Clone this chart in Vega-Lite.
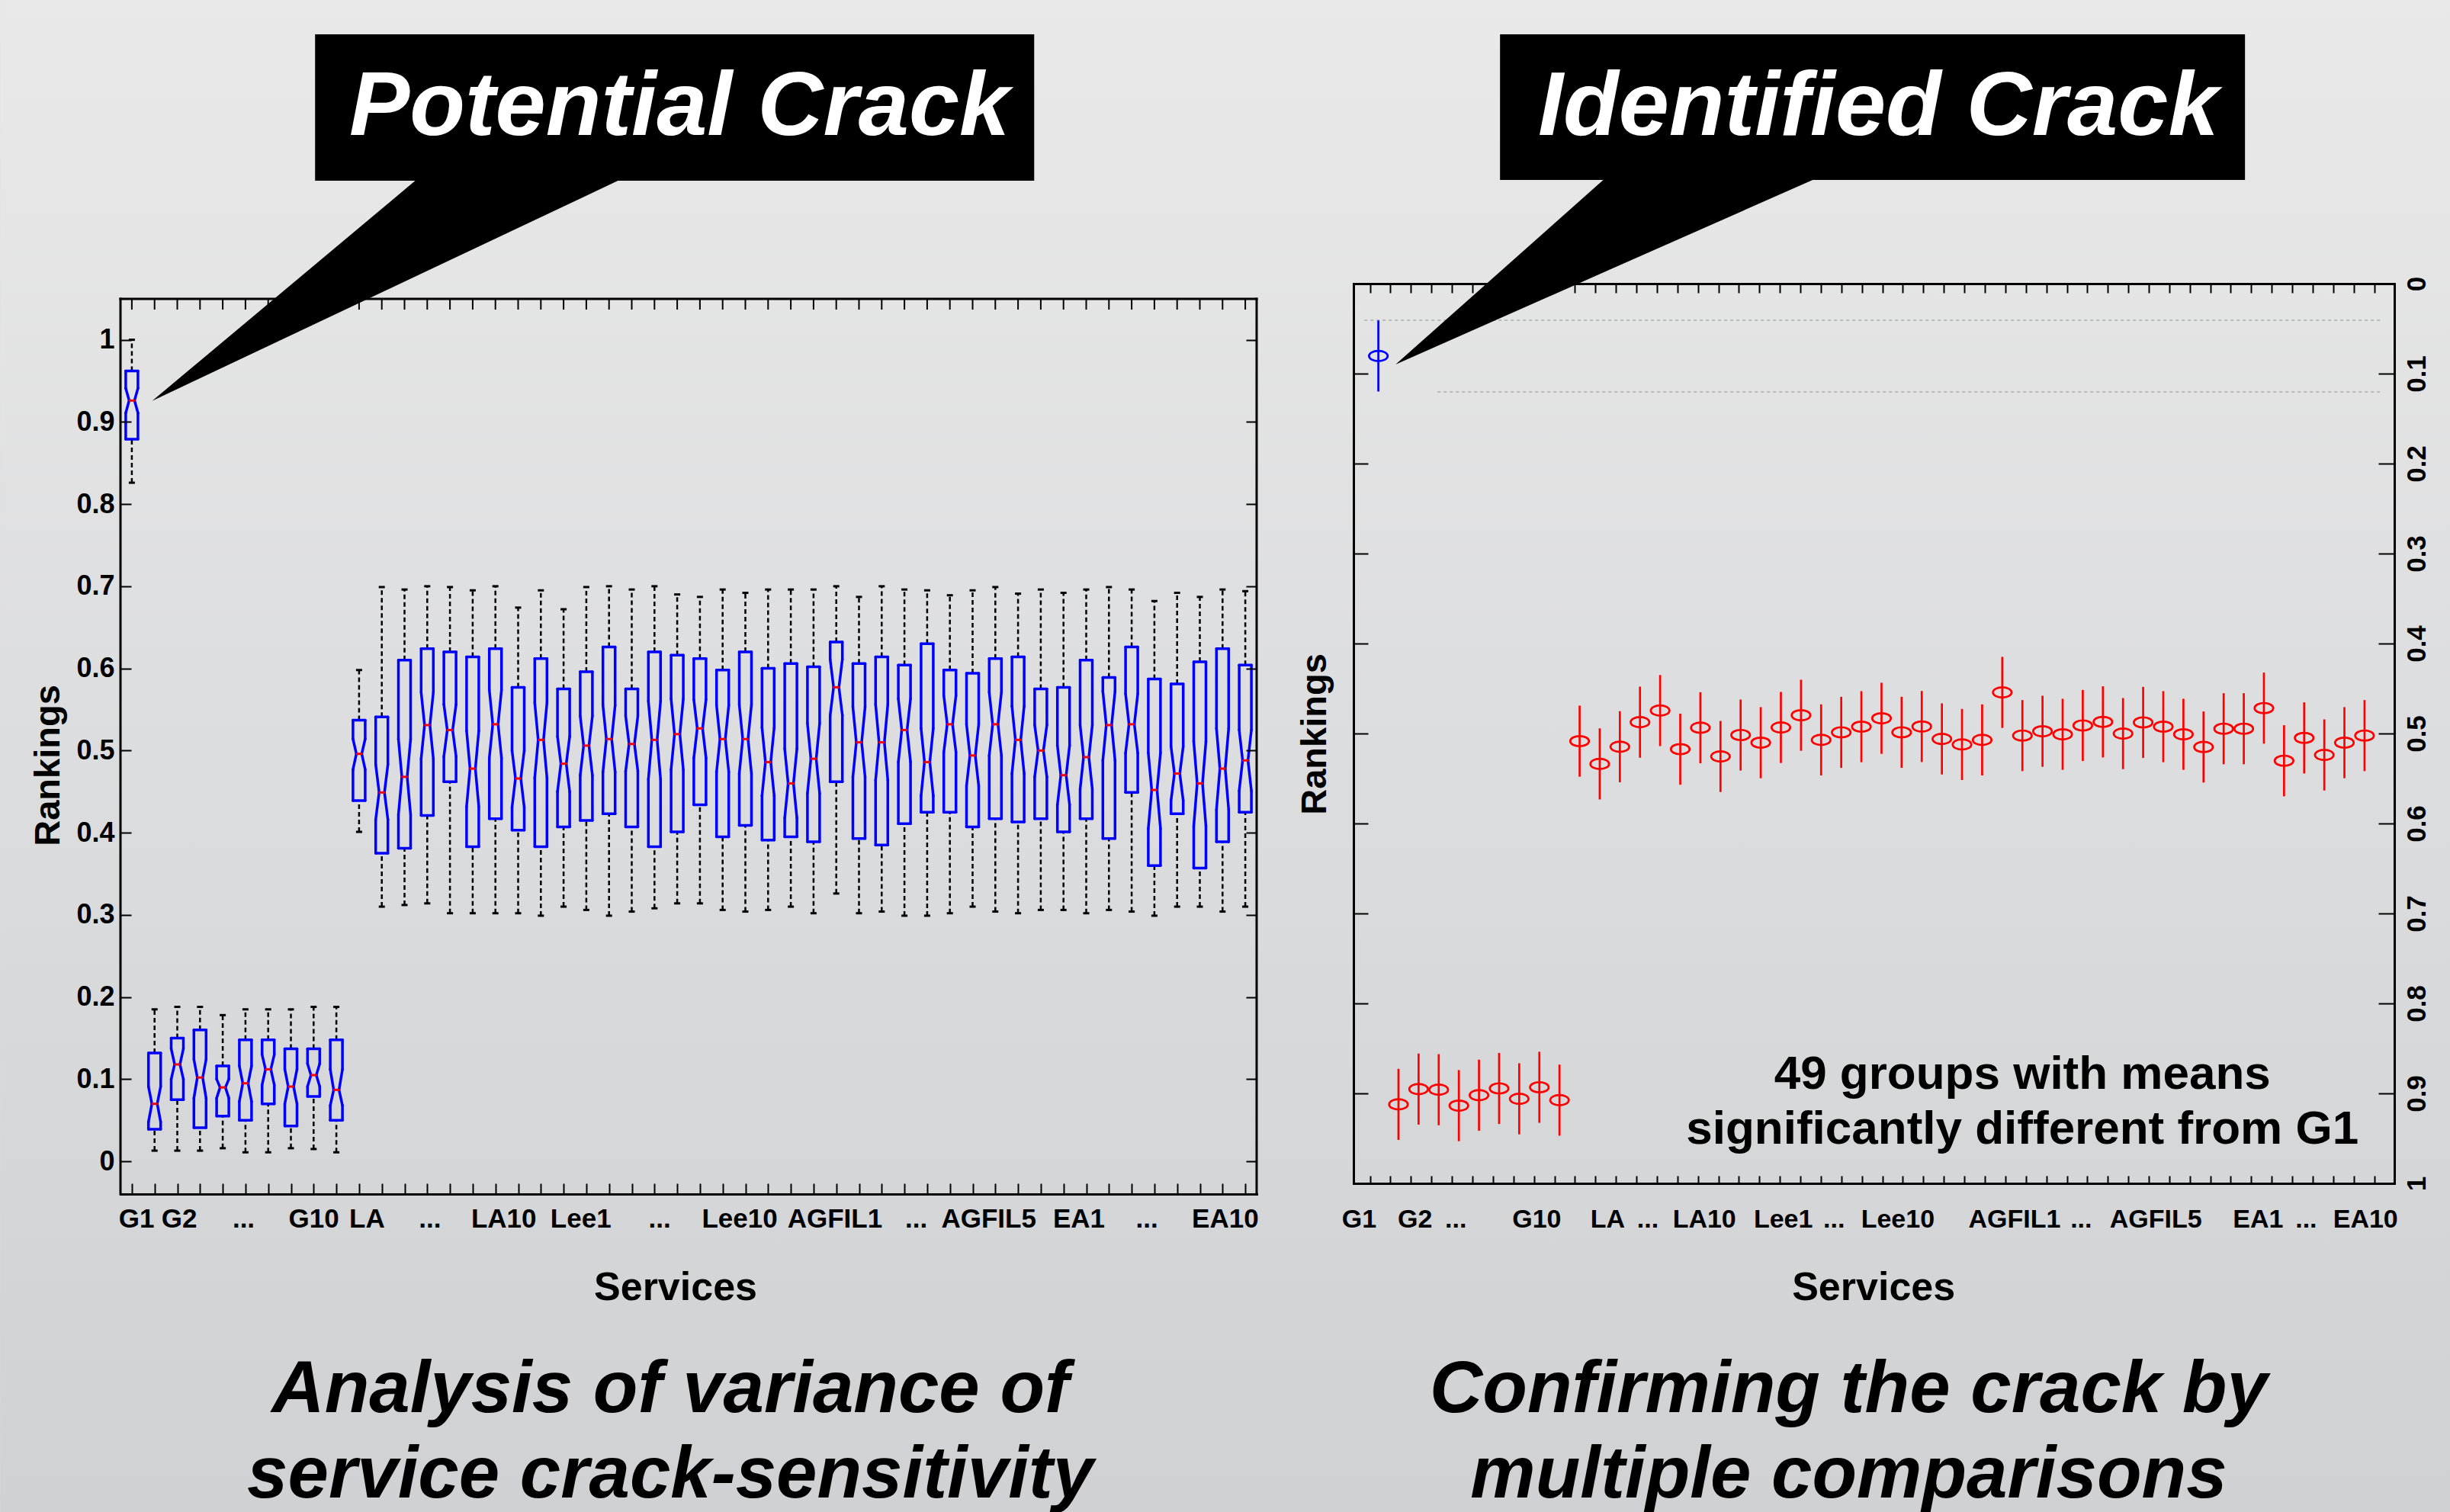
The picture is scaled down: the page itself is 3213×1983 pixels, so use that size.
{
"$schema":"https://vega.github.io/schema/vega-lite/v6.json",
"padding":0,
"autosize":{"type":"pad"},
"background":"#dddddd",
"config":{"view":{"stroke":null},"axis":{"domainColor":"#000","domainWidth":3,"domainCap":"square","tickColor":"#000","tickWidth":2,"grid":false,"labelFont":"Liberation Sans","labelFontWeight":"bold","labelColor":"#000","labelOverlap":false,"labelFlush":false}},
"datasets":{
"boxes":[
{"i":1,"wb":0.826,"q1":0.879,"nlo":0.911,"med":0.926,"nhi":0.941,"q3":0.962,"wt":1.0},
{"i":2,"wb":0.013,"q1":0.039,"nlo":0.048,"med":0.070,"nhi":0.091,"q3":0.132,"wt":0.185},
{"i":3,"wb":0.013,"q1":0.075,"nlo":0.100,"med":0.118,"nhi":0.137,"q3":0.150,"wt":0.188},
{"i":4,"wb":0.013,"q1":0.041,"nlo":0.077,"med":0.102,"nhi":0.124,"q3":0.160,"wt":0.188},
{"i":5,"wb":0.016,"q1":0.055,"nlo":0.077,"med":0.090,"nhi":0.100,"q3":0.116,"wt":0.178},
{"i":6,"wb":0.011,"q1":0.050,"nlo":0.073,"med":0.095,"nhi":0.116,"q3":0.148,"wt":0.185},
{"i":7,"wb":0.011,"q1":0.070,"nlo":0.093,"med":0.112,"nhi":0.130,"q3":0.148,"wt":0.185},
{"i":8,"wb":0.016,"q1":0.043,"nlo":0.070,"med":0.091,"nhi":0.112,"q3":0.137,"wt":0.185},
{"i":9,"wb":0.015,"q1":0.079,"nlo":0.091,"med":0.105,"nhi":0.119,"q3":0.137,"wt":0.188},
{"i":10,"wb":0.011,"q1":0.050,"nlo":0.068,"med":0.087,"nhi":0.112,"q3":0.148,"wt":0.188},
{"i":11,"wb":0.401,"q1":0.439,"nlo":0.477,"med":0.496,"nhi":0.514,"q3":0.537,"wt":0.598},
{"i":12,"wb":0.310,"q1":0.375,"nlo":0.416,"med":0.449,"nhi":0.483,"q3":0.541,"wt":0.699},
{"i":13,"wb":0.312,"q1":0.381,"nlo":0.422,"med":0.468,"nhi":0.514,"q3":0.610,"wt":0.696},
{"i":14,"wb":0.314,"q1":0.421,"nlo":0.490,"med":0.531,"nhi":0.571,"q3":0.624,"wt":0.700},
{"i":15,"wb":0.302,"q1":0.462,"nlo":0.493,"med":0.525,"nhi":0.556,"q3":0.620,"wt":0.699},
{"i":16,"wb":0.302,"q1":0.383,"nlo":0.432,"med":0.478,"nhi":0.524,"q3":0.614,"wt":0.695},
{"i":17,"wb":0.302,"q1":0.417,"nlo":0.491,"med":0.532,"nhi":0.574,"q3":0.624,"wt":0.700},
{"i":18,"wb":0.302,"q1":0.403,"nlo":0.431,"med":0.466,"nhi":0.500,"q3":0.577,"wt":0.674},
{"i":19,"wb":0.299,"q1":0.383,"nlo":0.467,"med":0.513,"nhi":0.558,"q3":0.612,"wt":0.695},
{"i":20,"wb":0.310,"q1":0.407,"nlo":0.450,"med":0.484,"nhi":0.517,"q3":0.575,"wt":0.672},
{"i":21,"wb":0.306,"q1":0.415,"nlo":0.470,"med":0.506,"nhi":0.542,"q3":0.596,"wt":0.699},
{"i":22,"wb":0.299,"q1":0.423,"nlo":0.474,"med":0.514,"nhi":0.555,"q3":0.626,"wt":0.700},
{"i":23,"wb":0.304,"q1":0.407,"nlo":0.475,"med":0.508,"nhi":0.542,"q3":0.575,"wt":0.696},
{"i":24,"wb":0.308,"q1":0.383,"nlo":0.465,"med":0.513,"nhi":0.560,"q3":0.620,"wt":0.700},
{"i":25,"wb":0.314,"q1":0.401,"nlo":0.477,"med":0.520,"nhi":0.563,"q3":0.616,"wt":0.690},
{"i":26,"wb":0.314,"q1":0.434,"nlo":0.491,"med":0.527,"nhi":0.562,"q3":0.612,"wt":0.687},
{"i":27,"wb":0.306,"q1":0.395,"nlo":0.474,"med":0.514,"nhi":0.555,"q3":0.598,"wt":0.696},
{"i":28,"wb":0.304,"q1":0.409,"nlo":0.472,"med":0.514,"nhi":0.556,"q3":0.620,"wt":0.692},
{"i":29,"wb":0.306,"q1":0.391,"nlo":0.445,"med":0.486,"nhi":0.528,"q3":0.600,"wt":0.696},
{"i":30,"wb":0.310,"q1":0.395,"nlo":0.418,"med":0.460,"nhi":0.502,"q3":0.606,"wt":0.696},
{"i":31,"wb":0.302,"q1":0.389,"nlo":0.448,"med":0.490,"nhi":0.533,"q3":0.602,"wt":0.696},
{"i":32,"wb":0.326,"q1":0.462,"nlo":0.543,"med":0.577,"nhi":0.611,"q3":0.632,"wt":0.700},
{"i":33,"wb":0.302,"q1":0.393,"nlo":0.468,"med":0.510,"nhi":0.553,"q3":0.606,"wt":0.687},
{"i":34,"wb":0.304,"q1":0.385,"nlo":0.464,"med":0.510,"nhi":0.556,"q3":0.614,"wt":0.700},
{"i":35,"wb":0.299,"q1":0.411,"nlo":0.486,"med":0.525,"nhi":0.563,"q3":0.604,"wt":0.696},
{"i":36,"wb":0.299,"q1":0.425,"nlo":0.445,"med":0.486,"nhi":0.527,"q3":0.630,"wt":0.695},
{"i":37,"wb":0.302,"q1":0.425,"nlo":0.498,"med":0.532,"nhi":0.567,"q3":0.598,"wt":0.689},
{"i":38,"wb":0.310,"q1":0.407,"nlo":0.457,"med":0.494,"nhi":0.532,"q3":0.594,"wt":0.695},
{"i":39,"wb":0.304,"q1":0.417,"nlo":0.494,"med":0.532,"nhi":0.571,"q3":0.612,"wt":0.699},
{"i":40,"wb":0.302,"q1":0.413,"nlo":0.472,"med":0.513,"nhi":0.554,"q3":0.614,"wt":0.691},
{"i":41,"wb":0.306,"q1":0.417,"nlo":0.468,"med":0.500,"nhi":0.531,"q3":0.575,"wt":0.696},
{"i":42,"wb":0.306,"q1":0.401,"nlo":0.434,"med":0.470,"nhi":0.506,"q3":0.577,"wt":0.692},
{"i":43,"wb":0.302,"q1":0.417,"nlo":0.453,"med":0.492,"nhi":0.531,"q3":0.610,"wt":0.696},
{"i":44,"wb":0.306,"q1":0.393,"nlo":0.488,"med":0.531,"nhi":0.572,"q3":0.589,"wt":0.699},
{"i":45,"wb":0.304,"q1":0.449,"nlo":0.497,"med":0.532,"nhi":0.569,"q3":0.626,"wt":0.696},
{"i":46,"wb":0.299,"q1":0.360,"nlo":0.405,"med":0.452,"nhi":0.497,"q3":0.587,"wt":0.682},
{"i":47,"wb":0.310,"q1":0.423,"nlo":0.439,"med":0.472,"nhi":0.505,"q3":0.581,"wt":0.692},
{"i":48,"wb":0.310,"q1":0.357,"nlo":0.408,"med":0.460,"nhi":0.511,"q3":0.608,"wt":0.687},
{"i":49,"wb":0.304,"q1":0.389,"nlo":0.428,"med":0.478,"nhi":0.527,"q3":0.624,"wt":0.696},
{"i":50,"wb":0.310,"q1":0.425,"nlo":0.451,"med":0.488,"nhi":0.525,"q3":0.604,"wt":0.694}
],
"means":[
{"i":1,"grp":"G1","m":0.0804,"lo":0.0409,"hi":0.1199},
{"i":2,"grp":"other","m":0.9122,"lo":0.8727,"hi":0.9517},
{"i":3,"grp":"other","m":0.8952,"lo":0.8557,"hi":0.9347},
{"i":4,"grp":"other","m":0.8959,"lo":0.8564,"hi":0.9354},
{"i":5,"grp":"other","m":0.9136,"lo":0.8741,"hi":0.9531},
{"i":6,"grp":"other","m":0.902,"lo":0.8625,"hi":0.9415},
{"i":7,"grp":"other","m":0.8945,"lo":0.855,"hi":0.934},
{"i":8,"grp":"other","m":0.906,"lo":0.8665,"hi":0.9455},
{"i":9,"grp":"other","m":0.8932,"lo":0.8537,"hi":0.9327},
{"i":10,"grp":"other","m":0.9075,"lo":0.868,"hi":0.947},
{"i":11,"grp":"other","m":0.5085,"lo":0.469,"hi":0.548},
{"i":12,"grp":"other","m":0.5338,"lo":0.4943,"hi":0.5733},
{"i":13,"grp":"other","m":0.5147,"lo":0.4752,"hi":0.5542},
{"i":14,"grp":"other","m":0.4874,"lo":0.4479,"hi":0.5269},
{"i":15,"grp":"other","m":0.4745,"lo":0.435,"hi":0.514},
{"i":16,"grp":"other","m":0.5174,"lo":0.4779,"hi":0.5569},
{"i":17,"grp":"other","m":0.4936,"lo":0.4541,"hi":0.5331},
{"i":18,"grp":"other","m":0.5255,"lo":0.486,"hi":0.565},
{"i":19,"grp":"other","m":0.5017,"lo":0.4622,"hi":0.5412},
{"i":20,"grp":"other","m":0.5102,"lo":0.4707,"hi":0.5497},
{"i":21,"grp":"other","m":0.4933,"lo":0.4538,"hi":0.5328},
{"i":22,"grp":"other","m":0.4797,"lo":0.4402,"hi":0.5192},
{"i":23,"grp":"other","m":0.5071,"lo":0.4676,"hi":0.5466},
{"i":24,"grp":"other","m":0.4987,"lo":0.4592,"hi":0.5382},
{"i":25,"grp":"other","m":0.4924,"lo":0.4529,"hi":0.5319},
{"i":26,"grp":"other","m":0.4831,"lo":0.4436,"hi":0.5226},
{"i":27,"grp":"other","m":0.4987,"lo":0.4592,"hi":0.5382},
{"i":28,"grp":"other","m":0.4922,"lo":0.4527,"hi":0.5317},
{"i":29,"grp":"other","m":0.506,"lo":0.4665,"hi":0.5455},
{"i":30,"grp":"other","m":0.5122,"lo":0.4727,"hi":0.5517},
{"i":31,"grp":"other","m":0.5071,"lo":0.4676,"hi":0.5466},
{"i":32,"grp":"other","m":0.4543,"lo":0.4148,"hi":0.4938},
{"i":33,"grp":"other","m":0.5023,"lo":0.4628,"hi":0.5418},
{"i":34,"grp":"other","m":0.4975,"lo":0.458,"hi":0.537},
{"i":35,"grp":"other","m":0.5009,"lo":0.4614,"hi":0.5404},
{"i":36,"grp":"other","m":0.4911,"lo":0.4516,"hi":0.5306},
{"i":37,"grp":"other","m":0.4871,"lo":0.4476,"hi":0.5266},
{"i":38,"grp":"other","m":0.5001,"lo":0.4606,"hi":0.5396},
{"i":39,"grp":"other","m":0.4877,"lo":0.4482,"hi":0.5272},
{"i":40,"grp":"other","m":0.4924,"lo":0.4529,"hi":0.5319},
{"i":41,"grp":"other","m":0.5009,"lo":0.4614,"hi":0.5404},
{"i":42,"grp":"other","m":0.515,"lo":0.4755,"hi":0.5545},
{"i":43,"grp":"other","m":0.4947,"lo":0.4552,"hi":0.5342},
{"i":44,"grp":"other","m":0.4947,"lo":0.4552,"hi":0.5342},
{"i":45,"grp":"other","m":0.4718,"lo":0.4323,"hi":0.5113},
{"i":46,"grp":"other","m":0.5303,"lo":0.4908,"hi":0.5698},
{"i":47,"grp":"other","m":0.5049,"lo":0.4654,"hi":0.5444},
{"i":48,"grp":"other","m":0.5238,"lo":0.4843,"hi":0.5633},
{"i":49,"grp":"other","m":0.5102,"lo":0.4707,"hi":0.5497},
{"i":50,"grp":"other","m":0.5023,"lo":0.4628,"hi":0.5418}
]
},
"bounds":"flush",
"spacing":127,
"hconcat":[
{
"width":1490,"height":1194,
"resolve":{"axis":{"x":"independent","y":"independent"}},
"layer":[
{"data":{"values":[{}]},"mark":{"type":"rect","strokeWidth":0,"fill":{"gradient":"linear","x1":0,"y1":0,"x2":0,"y2":1,"stops":[{"offset":0,"color":"#e9e9e9"},{"offset":1,"color":"#d0d1d4"}]}},
 "encoding":{"x":{"datum":-4.795,"type":"quantitative","scale":{"domain":[0.5,50.5],"nice":false,"zero":false},"axis":null},"x2":{"datum":103.02},
 "y":{"datum":1.4135,"type":"quantitative","scale":{"domain":[-0.0398,1.0683],"nice":false,"zero":false},"axis":null},"y2":{"datum":-0.4268}}},
{"data":{"name":"boxes"},"mark":{"type":"rule","color":"#000","strokeWidth":2.5,"strokeDash":[6,4]},
 "encoding":{"x":{"field":"i","type":"quantitative","scale":{"domain":[0.5,50.5],"nice":false,"zero":false},
   "axis":{"orient":"bottom","values":[1,2,3,4,5,6,7,8,9,10,11,12,13,14,15,16,17,18,19,20,21,22,23,24,25,26,27,28,29,30,31,32,33,34,35,36,37,38,39,40,41,42,43,44,45,46,47,48,49,50],"labels":false,"title":null,"tickSize":-14,"zindex":1}},
  "y":{"field":"q3","type":"quantitative","scale":{"domain":[-0.0398,1.0683],"nice":false,"zero":false},
   "axis":{"orient":"left","domain":false,"values":[0,0.1,0.2,0.3,0.4,0.5,0.6,0.7,0.8,0.9,1],"format":".1~f","labelFontSize":36,"labelPadding":22,"title":null,"tickSize":-14,"zindex":1}},
  "y2":{"field":"wt"}}},
{"data":{"name":"boxes"},"mark":{"type":"rule","color":"#000","strokeWidth":2.5,"strokeDash":[6,4]},
 "encoding":{"x":{"field":"i","type":"quantitative","scale":{"domain":[0.5,50.5],"nice":false,"zero":false},"axis":null},
  "y":{"field":"wb","type":"quantitative","scale":{"domain":[-0.0398,1.0683],"nice":false,"zero":false},
   "axis":{"orient":"right","domain":false,"values":[0,0.1,0.2,0.3,0.4,0.5,0.6,0.7,0.8,0.9,1],"labels":false,"title":null,"tickSize":-14,"zindex":1}},
  "y2":{"field":"q1"}}},
{"data":{"values":[{"x":0.5,"x2":0.5,"y":-0.0398,"y2":1.0497},{"x":50.5,"x2":50.5,"y":-0.0398,"y2":1.0497},{"x":0.5,"x2":50.5,"y":1.0497,"y2":1.0497}]},
 "mark":{"type":"rule","color":"#000","strokeWidth":3,"strokeCap":"square"},
 "encoding":{"x":{"field":"x","type":"quantitative","scale":{"domain":[0.5,50.5],"nice":false,"zero":false},"axis":null},"x2":{"field":"x2"},
  "y":{"field":"y","type":"quantitative","scale":{"domain":[-0.0398,1.0683],"nice":false,"zero":false},"axis":null},"y2":{"field":"y2"}}},
{"data":{"name":"boxes"},"mark":{"type":"rule","color":"#000","strokeWidth":2,"y2Offset":14},
 "encoding":{"x":{"field":"i","type":"quantitative","scale":{"domain":[0.5,50.5],"nice":false,"zero":false},"axis":null},"x2":{"field":"i"},
  "y":{"datum":1.0497,"type":"quantitative","scale":{"domain":[-0.0398,1.0683],"nice":false,"zero":false},"axis":null},"y2":{"datum":1.0497}}},
{"data":{"name":"boxes"},"mark":{"type":"rule","color":"#000","strokeWidth":3,"xOffset":-4,"x2Offset":4},
 "encoding":{"x":{"field":"i","type":"quantitative","scale":{"domain":[0.5,50.5],"nice":false,"zero":false},"axis":null},"x2":{"field":"i"},
  "y":{"field":"wt","type":"quantitative","scale":{"domain":[-0.0398,1.0683],"nice":false,"zero":false},"axis":null},"y2":{"field":"wt"}}},
{"data":{"name":"boxes"},"mark":{"type":"rule","color":"#000","strokeWidth":3,"xOffset":-4,"x2Offset":4},
 "encoding":{"x":{"field":"i","type":"quantitative","scale":{"domain":[0.5,50.5],"nice":false,"zero":false},"axis":null},"x2":{"field":"i"},
  "y":{"field":"wb","type":"quantitative","scale":{"domain":[-0.0398,1.0683],"nice":false,"zero":false},"axis":null},"y2":{"field":"wb"}}},
{"data":{"name":"boxes"},"mark":{"type":"rule","color":"#0000ff","strokeWidth":3.5,"strokeCap":"round","xOffset":-8,"x2Offset":8},
 "encoding":{"x":{"field":"i","type":"quantitative","scale":{"domain":[0.5,50.5],"nice":false,"zero":false},"axis":null},"x2":{"field":"i"},
  "y":{"field":"q1","type":"quantitative","scale":{"domain":[-0.0398,1.0683],"nice":false,"zero":false},"axis":null},"y2":{"field":"q1"}}},
{"data":{"name":"boxes"},"mark":{"type":"rule","color":"#0000ff","strokeWidth":3.5,"strokeCap":"round","xOffset":-8,"x2Offset":8},
 "encoding":{"x":{"field":"i","type":"quantitative","scale":{"domain":[0.5,50.5],"nice":false,"zero":false},"axis":null},"x2":{"field":"i"},
  "y":{"field":"q3","type":"quantitative","scale":{"domain":[-0.0398,1.0683],"nice":false,"zero":false},"axis":null},"y2":{"field":"q3"}}},
{"data":{"name":"boxes"},"mark":{"type":"rule","color":"#0000ff","strokeWidth":3.5,"strokeCap":"round","xOffset":-8,"x2Offset":-8},
 "encoding":{"x":{"field":"i","type":"quantitative","scale":{"domain":[0.5,50.5],"nice":false,"zero":false},"axis":null},"x2":{"field":"i"},
  "y":{"field":"q1","type":"quantitative","scale":{"domain":[-0.0398,1.0683],"nice":false,"zero":false},"axis":null},"y2":{"field":"nlo"}}},
{"data":{"name":"boxes"},"mark":{"type":"rule","color":"#0000ff","strokeWidth":3.5,"strokeCap":"round","xOffset":-8,"x2Offset":-3.5},
 "encoding":{"x":{"field":"i","type":"quantitative","scale":{"domain":[0.5,50.5],"nice":false,"zero":false},"axis":null},"x2":{"field":"i"},
  "y":{"field":"nlo","type":"quantitative","scale":{"domain":[-0.0398,1.0683],"nice":false,"zero":false},"axis":null},"y2":{"field":"med"}}},
{"data":{"name":"boxes"},"mark":{"type":"rule","color":"#0000ff","strokeWidth":3.5,"strokeCap":"round","xOffset":-3.5,"x2Offset":-8},
 "encoding":{"x":{"field":"i","type":"quantitative","scale":{"domain":[0.5,50.5],"nice":false,"zero":false},"axis":null},"x2":{"field":"i"},
  "y":{"field":"med","type":"quantitative","scale":{"domain":[-0.0398,1.0683],"nice":false,"zero":false},"axis":null},"y2":{"field":"nhi"}}},
{"data":{"name":"boxes"},"mark":{"type":"rule","color":"#0000ff","strokeWidth":3.5,"strokeCap":"round","xOffset":-8,"x2Offset":-8},
 "encoding":{"x":{"field":"i","type":"quantitative","scale":{"domain":[0.5,50.5],"nice":false,"zero":false},"axis":null},"x2":{"field":"i"},
  "y":{"field":"nhi","type":"quantitative","scale":{"domain":[-0.0398,1.0683],"nice":false,"zero":false},"axis":null},"y2":{"field":"q3"}}},
{"data":{"name":"boxes"},"mark":{"type":"rule","color":"#0000ff","strokeWidth":3.5,"strokeCap":"round","xOffset":8,"x2Offset":8},
 "encoding":{"x":{"field":"i","type":"quantitative","scale":{"domain":[0.5,50.5],"nice":false,"zero":false},"axis":null},"x2":{"field":"i"},
  "y":{"field":"q1","type":"quantitative","scale":{"domain":[-0.0398,1.0683],"nice":false,"zero":false},"axis":null},"y2":{"field":"nlo"}}},
{"data":{"name":"boxes"},"mark":{"type":"rule","color":"#0000ff","strokeWidth":3.5,"strokeCap":"round","xOffset":8,"x2Offset":3.5},
 "encoding":{"x":{"field":"i","type":"quantitative","scale":{"domain":[0.5,50.5],"nice":false,"zero":false},"axis":null},"x2":{"field":"i"},
  "y":{"field":"nlo","type":"quantitative","scale":{"domain":[-0.0398,1.0683],"nice":false,"zero":false},"axis":null},"y2":{"field":"med"}}},
{"data":{"name":"boxes"},"mark":{"type":"rule","color":"#0000ff","strokeWidth":3.5,"strokeCap":"round","xOffset":3.5,"x2Offset":8},
 "encoding":{"x":{"field":"i","type":"quantitative","scale":{"domain":[0.5,50.5],"nice":false,"zero":false},"axis":null},"x2":{"field":"i"},
  "y":{"field":"med","type":"quantitative","scale":{"domain":[-0.0398,1.0683],"nice":false,"zero":false},"axis":null},"y2":{"field":"nhi"}}},
{"data":{"name":"boxes"},"mark":{"type":"rule","color":"#0000ff","strokeWidth":3.5,"strokeCap":"round","xOffset":8,"x2Offset":8},
 "encoding":{"x":{"field":"i","type":"quantitative","scale":{"domain":[0.5,50.5],"nice":false,"zero":false},"axis":null},"x2":{"field":"i"},
  "y":{"field":"nhi","type":"quantitative","scale":{"domain":[-0.0398,1.0683],"nice":false,"zero":false},"axis":null},"y2":{"field":"q3"}}},
{"data":{"name":"boxes"},"mark":{"type":"rule","color":"#ff0000","strokeWidth":3,"xOffset":-4,"x2Offset":4},
 "encoding":{"x":{"field":"i","type":"quantitative","scale":{"domain":[0.5,50.5],"nice":false,"zero":false},"axis":null},"x2":{"field":"i"},
  "y":{"field":"med","type":"quantitative","scale":{"domain":[-0.0398,1.0683],"nice":false,"zero":false},"axis":null},"y2":{"field":"med"}}},
{"data":{"values":[{"x":1.896,"y":0.9256,"y2":0.9256},{"x":13.75,"y":1.2,"y2":1.0806},{"x":22.39,"y":1.2,"y2":1.1935}]},
 "mark":{"type":"area","color":"#000","interpolate":"linear","opacity":1},
 "encoding":{"x":{"field":"x","type":"quantitative","scale":{"domain":[0.5,50.5],"nice":false,"zero":false},"axis":null},
  "y":{"field":"y","type":"quantitative","scale":{"domain":[-0.0398,1.0683],"nice":false,"zero":false},"axis":null},"y2":{"field":"y2"}}},
{"data":{"values":[{}]},"mark":{"type":"rect","color":"#000","opacity":1},
 "encoding":{"x":{"datum":9.064,"type":"quantitative","scale":{"domain":[0.5,50.5],"nice":false,"zero":false},"axis":null},"x2":{"datum":40.71},
  "y":{"datum":1.3717,"type":"quantitative","scale":{"domain":[-0.0398,1.0683],"nice":false,"zero":false},"axis":null},"y2":{"datum":1.1935}}},
{"data":{"values":[{"t":"Potential Crack"}]},"mark":{"type":"text","font":"Liberation Sans","fontWeight":"bold","fontStyle":"italic","fontSize":119,"color":"#fff","align":"center","baseline":"alphabetic"},
 "encoding":{"x":{"datum":25.1,"type":"quantitative","scale":{"domain":[0.5,50.5],"nice":false,"zero":false},"axis":null},
  "y":{"datum":1.2492,"type":"quantitative","scale":{"domain":[-0.0398,1.0683],"nice":false,"zero":false},"axis":null},"text":{"field":"t"}}},
{"data":{"values":[{"t":"G1","u":1.205},{"t":"G2","u":3.09},{"t":"...","u":5.92},{"t":"G10","u":9.01},{"t":"LA","u":11.35},{"t":"...","u":14.12},{"t":"LA10","u":17.37},{"t":"Lee1","u":20.76},{"t":"...","u":24.23},{"t":"Lee10","u":27.75},{"t":"AGFIL1","u":31.94},{"t":"...","u":35.52},{"t":"AGFIL5","u":38.71},{"t":"EA1","u":42.68},{"t":"...","u":45.67},{"t":"EA10","u":49.12}]},
 "mark":{"type":"text","font":"Liberation Sans","fontWeight":"bold","fontSize":35,"color":"#000","align":"center","baseline":"alphabetic"},
 "encoding":{"x":{"field":"u","type":"quantitative","scale":{"domain":[0.5,50.5],"nice":false,"zero":false},"axis":null},
  "y":{"datum":-0.0806,"type":"quantitative","scale":{"domain":[-0.0398,1.0683],"nice":false,"zero":false},"axis":null},"text":{"field":"t"}}},
{"data":{"values":[{"t":"Services"}]},"mark":{"type":"text","font":"Liberation Sans","fontWeight":"bold","fontSize":52,"color":"#000","align":"center","baseline":"alphabetic"},
 "encoding":{"x":{"datum":24.93,"type":"quantitative","scale":{"domain":[0.5,50.5],"nice":false,"zero":false},"axis":null},
  "y":{"datum":-0.1688,"type":"quantitative","scale":{"domain":[-0.0398,1.0683],"nice":false,"zero":false},"axis":null},"text":{"field":"t"}}},
{"data":{"values":[{"t":"Rankings"}]},"mark":{"type":"text","font":"Liberation Sans","fontWeight":"bold","fontSize":47,"color":"#000","align":"center","baseline":"middle","angle":270},
 "encoding":{"x":{"datum":-2.66,"type":"quantitative","scale":{"domain":[0.5,50.5],"nice":false,"zero":false},"axis":null},
  "y":{"datum":0.4818,"type":"quantitative","scale":{"domain":[-0.0398,1.0683],"nice":false,"zero":false},"axis":null},"text":{"field":"t"}}},
{"data":{"values":[{"t":"Analysis of variance of\nservice crack-sensitivity"}]},"mark":{"type":"text","font":"Liberation Sans","fontWeight":"bold","fontStyle":"italic","fontSize":96,"color":"#000","align":"center","baseline":"alphabetic","lineBreak":"\n","lineHeight":112},
 "encoding":{"x":{"datum":24.7,"type":"quantitative","scale":{"domain":[0.5,50.5],"nice":false,"zero":false},"axis":null},
  "y":{"datum":-0.3052,"type":"quantitative","scale":{"domain":[-0.0398,1.0683],"nice":false,"zero":false},"axis":null},"text":{"field":"t"}}}
]
},
{
"width":1365,"height":1180,
"resolve":{"axis":{"x":"independent","y":"independent"}},
"layer":[
{"data":{"values":[{"i":0.303,"i2":50.92,"v":0.0407},{"i":3.94,"i2":50.92,"v":0.1203}]},
 "mark":{"type":"rule","color":"#aaaaaa","strokeWidth":1.5,"strokeDash":[4,4]},
 "encoding":{"x":{"field":"i","type":"quantitative","scale":{"domain":[-0.235,51.48],"nice":false,"zero":false},
   "axis":{"orient":"bottom","values":[0.58,1.6,2.62,3.64,4.66,5.68,6.69,7.71,8.73,9.75,10.77,11.79,12.8,13.82,14.84,15.86,16.88,17.9,18.91,19.93,20.95,21.97,22.99,24.01,25.02,26.04,27.06,28.08,29.1,30.11,31.13,32.15,33.17,34.19,35.21,36.23,37.24,38.26,39.28,40.3,41.32,42.34,43.35,44.37,45.39,46.41,47.43,48.44,49.46,50.48],"labels":false,"title":null,"tickSize":-10,"zindex":1}},
  "x2":{"field":"i2"},
  "y":{"field":"v","type":"quantitative","scale":{"domain":[0,1],"reverse":true,"nice":false,"zero":false},
   "axis":{"orient":"left","values":[0,0.1,0.2,0.3,0.4,0.5,0.6,0.7,0.8,0.9,1],"labels":false,"title":null,"tickSize":-19,"zindex":1}}}},
{"data":{"name":"means"},"mark":{"type":"rule","strokeWidth":2.7},
 "encoding":{"x":{"field":"i","type":"quantitative","scale":{"domain":[-0.235,51.48],"nice":false,"zero":false},
   "axis":{"orient":"top","values":[0.58,1.6,2.62,3.64,4.66,5.68,6.69,7.71,8.73,9.75,10.77,11.79,12.8,13.82,14.84,15.86,16.88,17.9,18.91,19.93,20.95,21.97,22.99,24.01,25.02,26.04,27.06,28.08,29.1,30.11,31.13,32.15,33.17,34.19,35.21,36.23,37.24,38.26,39.28,40.3,41.32,42.34,43.35,44.37,45.39,46.41,47.43,48.44,49.46,50.48],"labels":false,"title":null,"tickSize":-12,"zindex":1}},
  "y":{"field":"lo","type":"quantitative","scale":{"domain":[0,1],"reverse":true,"nice":false,"zero":false},
   "axis":{"orient":"right","values":[0,0.1,0.2,0.3,0.4,0.5,0.6,0.7,0.8,0.9,1],"format":".1~f","labelAngle":270,"labelAlign":"center","labelBaseline":"top","labelFontSize":35,"labelPadding":33,"title":null,"tickSize":-21,"zindex":1}},
  "y2":{"field":"hi"},
  "color":{"field":"grp","type":"nominal","scale":{"domain":["G1","other"],"range":["#0000ff","#ff0000"]},"legend":null}}},
{"data":{"name":"means"},"mark":{"type":"point","shape":"M-1,0A1,0.55,0,1,0,1,0A1,0.55,0,1,0,-1,0Z","size":600,"filled":false,"strokeWidth":2.7,"opacity":1},
 "encoding":{"x":{"field":"i","type":"quantitative","scale":{"domain":[-0.235,51.48],"nice":false,"zero":false},"axis":null},
  "y":{"field":"m","type":"quantitative","scale":{"domain":[0,1],"reverse":true,"nice":false,"zero":false},"axis":null},
  "color":{"field":"grp","type":"nominal","scale":{"domain":["G1","other"],"range":["#0000ff","#ff0000"]},"legend":null}}},
{"data":{"values":[{"x":1.856,"y":0.0898,"y2":0.0898},{"x":12.464,"y":-0.121,"y2":-0.0152},{"x":22.58,"y":-0.121,"y2":-0.1153}]},
 "mark":{"type":"area","color":"#000","interpolate":"linear","opacity":1},
 "encoding":{"x":{"field":"x","type":"quantitative","scale":{"domain":[-0.235,51.48],"nice":false,"zero":false},"axis":null},
  "y":{"field":"y","type":"quantitative","scale":{"domain":[0,1],"reverse":true,"nice":false,"zero":false},"axis":null},"y2":{"field":"y2"}}},
{"data":{"values":[{}]},"mark":{"type":"rect","color":"#000","opacity":1},
 "encoding":{"x":{"datum":7.046,"type":"quantitative","scale":{"domain":[-0.235,51.48],"nice":false,"zero":false},"axis":null},"x2":{"datum":44.06},
  "y":{"datum":-0.2771,"type":"quantitative","scale":{"domain":[0,1],"reverse":true,"nice":false,"zero":false},"axis":null},"y2":{"datum":-0.1153}}},
{"data":{"values":[{"t":"Identified Crack"}]},"mark":{"type":"text","font":"Liberation Sans","fontWeight":"bold","fontStyle":"italic","fontSize":119,"color":"#fff","align":"center","baseline":"alphabetic"},
 "encoding":{"x":{"datum":25.84,"type":"quantitative","scale":{"domain":[-0.235,51.48],"nice":false,"zero":false},"axis":null},
  "y":{"datum":-0.1653,"type":"quantitative","scale":{"domain":[0,1],"reverse":true,"nice":false,"zero":false},"axis":null},"text":{"field":"t"}}},
{"data":{"values":[{"t":"G1","u":0.05},{"t":"G2","u":2.82},{"t":"...","u":4.85},{"t":"G10","u":8.87},{"t":"LA","u":12.4},{"t":"...","u":14.39},{"t":"LA10","u":17.2},{"t":"Lee1","u":21.12},{"t":"...","u":23.64},{"t":"Lee10","u":26.81},{"t":"AGFIL1","u":32.61},{"t":"...","u":35.92},{"t":"AGFIL5","u":39.63},{"t":"EA1","u":44.71},{"t":"...","u":47.1},{"t":"EA10","u":50.05}]},
 "mark":{"type":"text","font":"Liberation Sans","fontWeight":"bold","fontSize":34,"color":"#000","align":"center","baseline":"alphabetic"},
 "encoding":{"x":{"field":"u","type":"quantitative","scale":{"domain":[-0.235,51.48],"nice":false,"zero":false},"axis":null},
  "y":{"datum":1.0492,"type":"quantitative","scale":{"domain":[0,1],"reverse":true,"nice":false,"zero":false},"axis":null},"text":{"field":"t"}}},
{"data":{"values":[{"t":"Services"}]},"mark":{"type":"text","font":"Liberation Sans","fontWeight":"bold","fontSize":52,"color":"#000","align":"center","baseline":"alphabetic"},
 "encoding":{"x":{"datum":25.61,"type":"quantitative","scale":{"domain":[-0.235,51.48],"nice":false,"zero":false},"axis":null},
  "y":{"datum":1.1297,"type":"quantitative","scale":{"domain":[0,1],"reverse":true,"nice":false,"zero":false},"axis":null},"text":{"field":"t"}}},
{"data":{"values":[{"t":"Rankings"}]},"mark":{"type":"text","font":"Liberation Sans","fontWeight":"bold","fontSize":47,"color":"#000","align":"center","baseline":"middle","angle":270},
 "encoding":{"x":{"datum":-2.12,"type":"quantitative","scale":{"domain":[-0.235,51.48],"nice":false,"zero":false},"axis":null},
  "y":{"datum":0.5008,"type":"quantitative","scale":{"domain":[0,1],"reverse":true,"nice":false,"zero":false},"axis":null},"text":{"field":"t"}}},
{"data":{"values":[{"t":"49 groups with means\nsignificantly different from G1"}]},"mark":{"type":"text","font":"Liberation Sans","fontWeight":"bold","fontSize":62,"color":"#000","align":"center","baseline":"alphabetic","lineBreak":"\n","lineHeight":72},
 "encoding":{"x":{"datum":33.0,"type":"quantitative","scale":{"domain":[-0.235,51.48],"nice":false,"zero":false},"axis":null},
  "y":{"datum":0.8952,"type":"quantitative","scale":{"domain":[0,1],"reverse":true,"nice":false,"zero":false},"axis":null},"text":{"field":"t"}}},
{"data":{"values":[{"t":"Confirming the crack by\nmultiple comparisons"}]},"mark":{"type":"text","font":"Liberation Sans","fontWeight":"bold","fontStyle":"italic","fontSize":96,"color":"#000","align":"center","baseline":"alphabetic","lineBreak":"\n","lineHeight":112},
 "encoding":{"x":{"datum":24.37,"type":"quantitative","scale":{"domain":[-0.235,51.48],"nice":false,"zero":false},"axis":null},
  "y":{"datum":1.2542,"type":"quantitative","scale":{"domain":[0,1],"reverse":true,"nice":false,"zero":false},"axis":null},"text":{"field":"t"}}}
]
}
]
}
